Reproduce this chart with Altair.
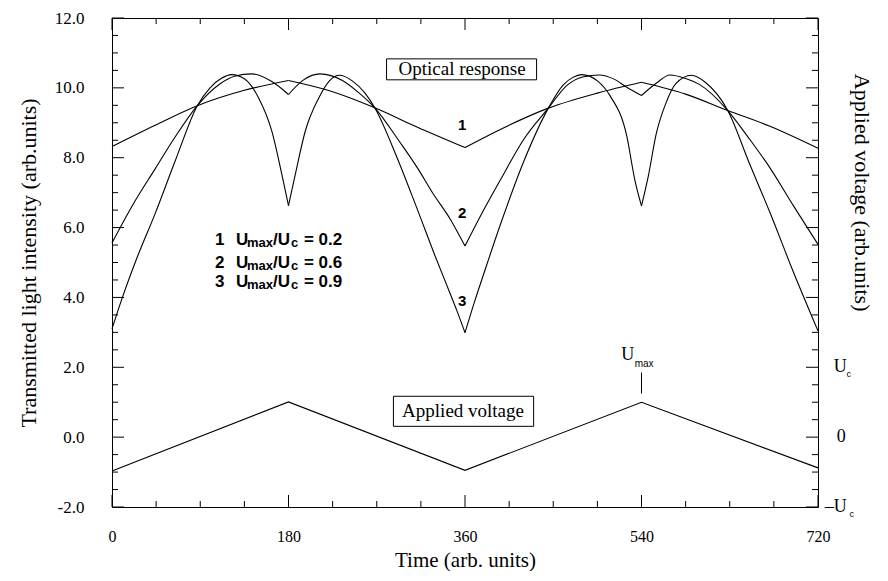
import altair as alt
import pandas as pd

# ---------------- data ----------------
T1 = [0, 44, 87, 135, 180, 225, 268, 311, 360, 396, 445, 495, 540, 585, 628, 671, 720]
V1 = [8.32, 8.93, 9.49, 9.93, 10.21, 9.89, 9.43, 8.88, 8.29, 8.81, 9.42, 9.85, 10.16, 9.82, 9.35, 8.90, 8.27]

T2 = [0, 22, 44, 65, 87, 110, 125, 143, 163, 180,
      195, 212, 235, 250, 268, 294, 311, 327, 345, 360,
      380, 396, 420, 445, 464, 480, 497, 512, 525, 540,
      555, 569, 585, 599, 628, 650, 671, 695, 720]
V2 = [5.56, 6.69, 7.68, 8.62, 9.49, 10.11, 10.33, 10.40, 10.18, 9.81,
      10.22, 10.40, 10.21, 9.90, 9.43, 8.43, 7.73, 6.99, 6.24, 5.47,
      6.55, 7.36, 8.53, 9.42, 10.07, 10.31, 10.37, 10.25, 10.02, 9.78,
      10.13, 10.37, 10.27, 10.10, 9.35, 8.54, 7.71, 6.62, 5.52]

T3 = [0, 10, 25, 44, 65, 87, 100, 112, 122, 135, 149, 163, 173, 180,
      187, 197, 211, 222, 232, 245, 258, 268, 290, 311, 330, 345, 352, 360,
      370, 380, 396, 420, 445, 460, 470, 479, 495, 508, 525, 533, 540,
      547, 555, 565, 575, 591, 605, 628, 650, 671, 695, 720]
V3 = [3.10, 3.95, 5.10, 6.40, 7.95, 9.49, 10.00, 10.28, 10.38, 10.26, 9.74, 8.76, 7.55, 6.63,
      7.53, 8.75, 9.72, 10.21, 10.36, 10.20, 9.85, 9.43, 8.05, 6.55, 5.15, 4.10, 3.60, 2.99,
      3.90, 4.75, 6.08, 7.90, 9.42, 10.08, 10.30, 10.38, 10.20, 9.77, 8.62, 7.39, 6.62,
      7.48, 8.68, 9.57, 10.12, 10.36, 10.16, 9.35, 7.84, 6.43, 4.72, 3.04]

TV = [0, 180, 360, 540, 720]
VV = [-0.97, 1.01, -0.95, 1.0, -0.88]

CURVES = {"1": (T1, V1), "2": (T2, V2), "3": (T3, V3)}

X_TICKS = list(range(0, 721, 45))
Y_TICKS = [-2 + 0.5 * i for i in range(29)]
X_LABELS = [0, 180, 360, 540, 720]
Y_LABELS = [-2, 0, 2, 4, 6, 8, 10, 12]

W, H = 706, 489
SERIF = "Liberation Serif"
SANS = "Liberation Sans"

# ---------------- tables ----------------
rows = []
for cid, (ts, vs) in CURVES.items():
    for t, v in zip(ts, vs):
        segs = {min(int(t // 180), 3)}
        if t in (180, 360, 540):
            segs.add(int(t // 180) - 1)
        for s in segs:
            rows.append(dict(key=f"{cid}-{s}", t=t, v=v))
curves_df = pd.DataFrame(rows)
volt_df = pd.DataFrame({"t": TV, "v": VV})

xt = pd.DataFrame({"t": X_TICKS, "major": [t % 180 == 0 for t in X_TICKS]})
yt = pd.DataFrame({"v": Y_TICKS, "major": [abs(v % 2) < 1e-9 for v in Y_TICKS]})

xs = alt.Scale(domain=[0, 720], nice=False, zero=False)
ys = alt.Scale(domain=[-2, 12], nice=False, zero=False)

X = alt.X("t:Q", scale=xs, title="Time (arb. units)",
          axis=alt.Axis(values=X_LABELS, ticks=False, domain=False, grid=False,
                        labelFont=SERIF, labelFontSize=16, labelPadding=21,
                        labelFlush=False, labelColor="black",
                        titleFont=SERIF, titleFontSize=21, titleFontWeight="normal",
                        titlePadding=5, titleColor="black"))
Y = alt.Y("v:Q", scale=ys, title="Transmitted light intensity (arb.units)",
          axis=alt.Axis(values=Y_LABELS, ticks=False, domain=False, grid=False,
                        labelExpr="(datum.value < 0 ? '-' : '') + format(abs(datum.value), '.1f')",
                        labelFont=SERIF, labelFontSize=17, labelPadding=28, labelColor="black",
                        titleFont=SERIF, titleFontSize=22, titleFontWeight="normal",
                        titlePadding=14, titleColor="black"))

curves = alt.Chart(curves_df).mark_line(color="black", strokeWidth=1.1, interpolate="monotone").encode(
    x=X, y=Y, detail="key:N", order="t:Q")
volt = alt.Chart(volt_df).mark_line(color="black", strokeWidth=1.1).encode(
    x=alt.X("t:Q", scale=xs), y=alt.Y("v:Q", scale=ys))

def yticks(major, x0, x1):
    return alt.Chart(yt).transform_filter(f"datum.major == {str(major).lower()}").mark_rule(
        color="black", strokeWidth=1).encode(y=alt.Y("v:Q", scale=ys), x=alt.value(x0), x2=alt.value(x1))

def xticks(major, y0, y1):
    return alt.Chart(xt).transform_filter(f"datum.major == {str(major).lower()}").mark_rule(
        color="black", strokeWidth=1).encode(x=alt.X("t:Q", scale=xs), y=alt.value(y0), y2=alt.value(y1))

ticks = [yticks(True, 0, 12), yticks(False, 0, 6), yticks(True, W, W - 12), yticks(False, W, W - 6),
         xticks(True, H, H - 12), xticks(False, H, H - 6), xticks(True, 0, 12), xticks(False, 0, 6)]

# ---------------- annotations ----------------
boxes_df = pd.DataFrame({"t0": [280, 287], "t1": [433, 430], "v0": [10.23, 0.31], "v1": [10.83, 1.17]})
boxes = alt.Chart(boxes_df).mark_rect(fill="white", stroke="black", strokeWidth=1).encode(
    x=alt.X("t0:Q", scale=xs), x2="t1:Q", y=alt.Y("v0:Q", scale=ys), y2="v1:Q")

box_text_df = pd.DataFrame({"t": [357, 358], "v": [10.53, 0.74], "txt": ["Optical response", "Applied voltage"]})
box_text = alt.Chart(box_text_df).mark_text(font=SERIF, fontSize=19, color="black").encode(
    x=alt.X("t:Q", scale=xs), y=alt.Y("v:Q", scale=ys), text="txt:N")

num_df = pd.DataFrame({"t": [357, 357, 357], "v": [8.95, 6.41, 3.9], "txt": ["1", "2", "3"]})
nums = alt.Chart(num_df).mark_text(font=SANS, fontWeight="bold", fontSize=15, color="black").encode(
    x=alt.X("t:Q", scale=xs), y=alt.Y("v:Q", scale=ys), text="txt:N")

# legend text: fragments with subscript pieces
LEG_V = [5.63, 5.0, 4.43]
LEG_N = ["1", "2", "3"]
LEG_R = ["0.2", "0.6", "0.9"]
LEG_T = 105
frag_rows = []
for v, n, r in zip(LEG_V, LEG_N, LEG_R):
    frag_rows += [
        dict(v=v, txt=n, dx=0, dy=0, size=17),
        dict(v=v, txt="U", dx=21, dy=0, size=17),
        dict(v=v, txt="max", dx=32, dy=3, size=13),
        dict(v=v, txt="/U", dx=58, dy=0, size=17),
        dict(v=v, txt="c", dx=76, dy=3, size=13),
        dict(v=v, txt="= " + r, dx=89, dy=0, size=17),
    ]
legend_layers = []
for fr in frag_rows:
    d = pd.DataFrame({"t": [LEG_T], "v": [fr["v"]], "txt": [fr["txt"]]})
    legend_layers.append(
        alt.Chart(d).mark_text(font=SANS, fontWeight="bold", fontSize=fr["size"], align="left",
                               dx=fr["dx"], dy=fr["dy"], color="black").encode(
            x=alt.X("t:Q", scale=xs), y=alt.Y("v:Q", scale=ys), text="txt:N"))

# U_max marker
umax_rule = alt.Chart(pd.DataFrame({"t": [540], "v0": [1.25], "v1": [1.85]})).mark_rule(
    color="black", strokeWidth=1).encode(x=alt.X("t:Q", scale=xs), y=alt.Y("v0:Q", scale=ys), y2="v1:Q")
umax_U = alt.Chart(pd.DataFrame({"t": [526], "v": [2.35], "txt": ["U"]})).mark_text(
    font=SERIF, fontSize=18, color="black").encode(
    x=alt.X("t:Q", scale=xs), y=alt.Y("v:Q", scale=ys), text="txt:N")
umax_sub = alt.Chart(pd.DataFrame({"t": [533], "v": [2.1], "txt": ["max"]})).mark_text(
    font=SANS, fontSize=10, align="left", color="black").encode(
    x=alt.X("t:Q", scale=xs), y=alt.Y("v:Q", scale=ys), text="txt:N")

# right-hand axis labels and title
R_V = [2, 0, -2]
right_main = alt.Chart(pd.DataFrame({"t": [736, 739, 727], "v": R_V, "txt": ["U", "0", "\u2013U"]})).mark_text(
    font=SERIF, fontSize=18, align="left", color="black").encode(
    x=alt.X("t:Q", scale=xs), y=alt.Y("v:Q", scale=ys), text="txt:N")
right_sub = alt.Chart(pd.DataFrame({"t": [749, 752], "v": [2, -2], "txt": ["c", "c"]})).mark_text(
    font=SANS, fontSize=9, align="left", dy=7, color="black").encode(
    x=alt.X("t:Q", scale=xs), y=alt.Y("v:Q", scale=ys), text="txt:N")
right_title = alt.Chart(pd.DataFrame({"t": [765], "v": [7.0], "txt": ["Applied voltage (arb.units)"]})).mark_text(
    font=SERIF, fontSize=22, angle=90, color="black").encode(
    x=alt.X("t:Q", scale=xs), y=alt.Y("v:Q", scale=ys), text="txt:N")

chart = alt.layer(
    curves, volt, *ticks, boxes, box_text, nums, *legend_layers,
    umax_rule, umax_U, umax_sub, right_main, right_sub, right_title
).properties(
    width=W, height=H,
    autosize=alt.AutoSizeParams(type="none"),
    padding={"left": 104, "top": 10, "right": 62, "bottom": 64},
    background="white",
).configure_view(stroke="black", strokeWidth=1)

chart.save("out.html", embed_options={"renderer": "svg", "actions": False})
